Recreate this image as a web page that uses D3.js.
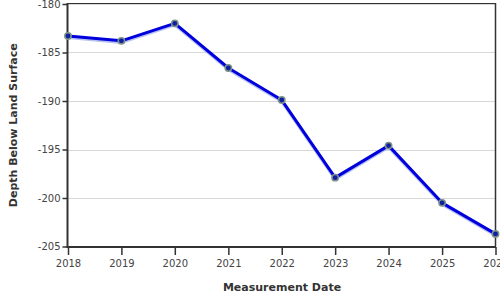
<!DOCTYPE html>
<html>
<head>
<meta charset="utf-8">
<script src="https://cdn.jsdelivr.net/npm/d3@7"></script>
<style>
body{margin:0;background:#fff;}
svg text{font-family:"DejaVu Sans",sans-serif;}
</style>
</head>
<body>
<svg id="chart" width="500" height="300"></svg>
<script>
var years = [2018, 2019, 2020, 2021, 2022, 2023, 2024, 2025, 2026];
var depths = [-183.3, -183.8, -182.0, -186.6, -189.9, -197.9, -194.6, -200.5, -203.7];
var yTicks = [-180, -185, -190, -195, -200, -205];
var xTickYears = [2018, 2019, 2020, 2021, 2022, 2023, 2024, 2025, 2026];

var svg = d3.select("#chart");
var plotL = 68, plotR = 496, plotT = 4, plotB = 246.5;

var x = d3.scaleTime()
    .domain([new Date(2018, 0, 1), new Date(2026, 0, 1)])
    .range([plotL, plotR - 0.5]);
var y = d3.scaleLinear()
    .domain([-180, -205])
    .range([plotT, plotB]);

var data = years.map(function(yr, i){ return {date: new Date(yr, 0, 1), v: depths[i]}; });

// grid
svg.append("g").selectAll("line")
  .data(yTicks)
  .enter().append("line")
    .attr("x1", plotL).attr("x2", plotR)
    .attr("y1", function(d){ return Math.round(y(d)) + 0.5; })
    .attr("y2", function(d){ return Math.round(y(d)) + 0.5; })
    .style("stroke", "#d8d8d8").style("stroke-width", 1);

// frame top/right
svg.append("line").attr("x1", plotL).attr("x2", plotR).attr("y1", 3.5).attr("y2", 3.5)
  .style("stroke", "#333").style("stroke-width", 1);
svg.append("line").attr("x1", plotR - 0.5).attr("x2", plotR - 0.5).attr("y1", 3).attr("y2", plotB)
  .style("stroke", "#333").style("stroke-width", 1.5);

// axes
var yAxis = d3.axisLeft(y).tickValues(yTicks).tickSize(5).tickPadding(2)
    .tickFormat(function(d){ return String(d); });
var gy = svg.append("g").attr("transform", "translate(" + (plotL - 0.5) + ",0)").call(yAxis);
gy.select(".domain").remove();
gy.append("line").attr("x1", 0).attr("x2", 0).attr("y1", plotT - 1).attr("y2", plotB + 1)
  .style("stroke", "#333").style("stroke-width", 2);
gy.selectAll(".tick line").style("stroke", "#333").style("stroke-width", 1.5);
gy.selectAll(".tick text").style("font-size", "10px").style("fill", "#444")
  .style("font-family", "DejaVu Sans");

var xAxis = d3.axisBottom(x)
    .tickValues(xTickYears.map(function(yr){ return new Date(yr, 0, 1); }))
    .tickFormat(d3.timeFormat("%Y")).tickSize(8).tickPadding(5);
var gx = svg.append("g").attr("transform", "translate(0," + (plotB + 0.5) + ")").call(xAxis);
gx.select(".domain").remove();
gx.append("line").attr("x1", plotL - 1.5).attr("x2", plotR).attr("y1", 0).attr("y2", 0)
  .style("stroke", "#333").style("stroke-width", 2);
gx.selectAll(".tick line").style("stroke", "#333").style("stroke-width", 1.5);
gx.selectAll(".tick text").style("font-size", "10px").style("fill", "#444")
  .style("font-family", "DejaVu Sans");

// titles
svg.append("text")
  .attr("transform", "translate(17," + ((plotT + plotB) / 2) + ") rotate(-90)")
  .attr("text-anchor", "middle")
  .style("font-size", "11px").style("font-weight", "bold").style("fill", "#333")
  .text("Depth Below Land Surface");
svg.append("text")
  .attr("x", (plotL + plotR) / 2).attr("y", 291)
  .attr("text-anchor", "middle")
  .style("font-size", "11px").style("font-weight", "bold").style("fill", "#333")
  .text("Measurement Date");

// line
var line = d3.line()
    .x(function(d){ return x(d.date); })
    .y(function(d){ return y(d.v); });

svg.append("path").datum(data)
  .attr("d", line)
  .attr("transform", "translate(0,1.5)")
  .style("fill", "none").style("stroke", "#9aa6ee").style("stroke-width", 3).style("opacity", 0.7);
svg.append("path").datum(data)
  .attr("d", line)
  .style("fill", "none").style("stroke", "#0000dd").style("stroke-width", 3)
  .style("stroke-linejoin", "round");

svg.append("g").selectAll("circle")
  .data(data)
  .enter().append("circle")
    .attr("cx", function(d){ return x(d.date); })
    .attr("cy", function(d){ return y(d.v); })
    .attr("r", 3.2)
    .style("fill", "#1020a0").style("stroke", "#7f9488").style("stroke-width", 1.5);
</script>
</body>
</html>
